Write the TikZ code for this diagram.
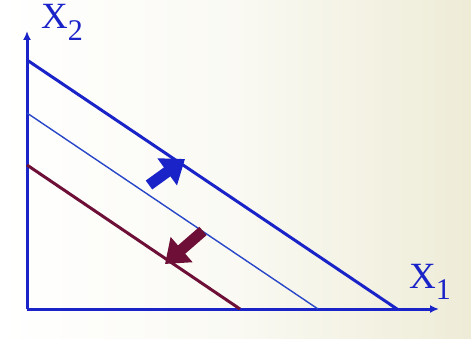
\documentclass[tikz,border=0pt]{standalone}
\usepackage{fontspec}
\setmainfont{Liberation Serif}
\usepackage{xcolor}
\usetikzlibrary{arrows.meta,positioning,calc}

\definecolor{axisblue}{RGB}{25,35,200}
\definecolor{lineblue}{RGB}{40,70,200}
\definecolor{maroon}{RGB}{110,15,55}
\definecolor{paper}{RGB}{238,236,215}

\begin{document}
\begin{tikzpicture}[
  x=1pt,y=-1pt,
  >=Latex,
  axis/.style={draw=axisblue,line width=3pt,-{Latex[length=9pt,width=8pt]}},
  budget/.style={draw=axisblue,line width=3pt},
  thinbudget/.style={draw=lineblue,line width=1.4pt},
  lowbudget/.style={draw=maroon,line width=3pt},
  shiftarrow/.style={line width=11pt,-{Triangle[length=22pt,width=32pt]}},
  axislabel/.style={text=axisblue,font=\fontsize{37}{37}\selectfont,inner sep=0pt}
]
% background
\shade[left color=white,right color=paper,middle color=white!70!paper] (0,0) rectangle (471,339);
\useasboundingbox (0,0) rectangle (471,339);

% axes
\coordinate (o) at (27,309);
\coordinate (ytop) at (27,31);
\coordinate (xend) at (439,309);
\draw[axis] (o) -- (ytop);
\draw[axis] (o) -- (xend);
\node[axislabel,anchor=base west] (x2) at (41,29) {X\textsubscript{\fontsize{30}{30}\selectfont 2}};
\node[axislabel,anchor=base west] (x1) at (409,288) {X\textsubscript{\fontsize{30}{30}\selectfont 1}};

% budget lines
\coordinate (a1) at (27,60);  \coordinate (b1) at (397,309);
\coordinate (a2) at (27,113); \coordinate (b2) at (318,309);
\coordinate (a3) at (27,165); \coordinate (b3) at (240,309);
\draw[budget] (a1) -- (b1);
\draw[thinbudget] (a2) -- (b2);
\draw[lowbudget] (a3) -- (b3);

% shifts
\coordinate (up0) at (149,185);  \coordinate (up1) at (185,159);
\coordinate (dn0) at (203,231);  \coordinate (dn1) at (165,264);
\draw[shiftarrow,draw=axisblue,fill=axisblue] (up0) -- (up1);
\draw[shiftarrow,draw=maroon,fill=maroon] (dn0) -- (dn1);
\end{tikzpicture}
\end{document}
